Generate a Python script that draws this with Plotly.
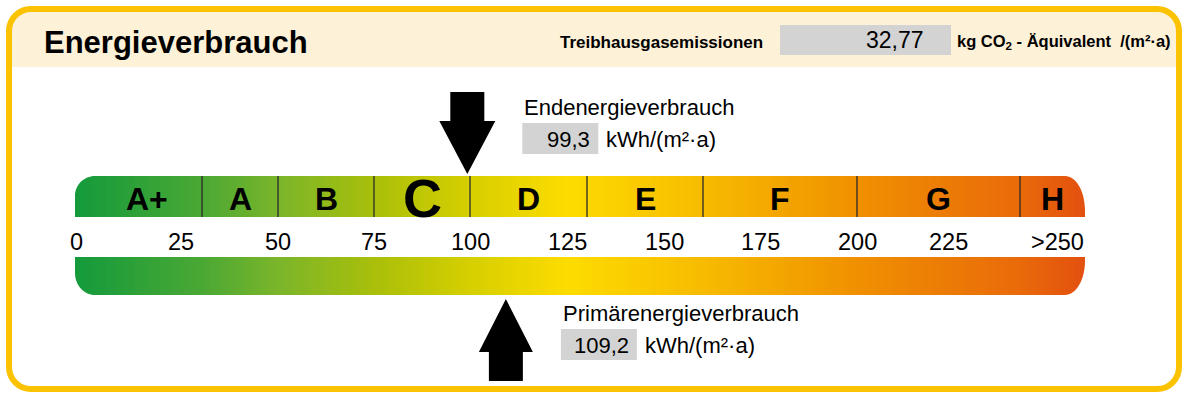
import numpy as np
import plotly.graph_objects as go

# ---------------- data ----------------
classes = ["A+", "A", "B", "C", "D", "E", "F", "G", "H"]
class_upper = [30, 50, 75, 100, 130, 160, 200, 250, 300]   # upper bound of each class (kWh/(m²·a)); 300 = end of scale
tick_values = [0, 25, 50, 75, 100, 125, 150, 175, 200, 225, 250]
tick_labels = ["0", "25", "50", "75", "100", "125", "150", "175", "200", "225", ">250"]
end_energy = 99.3          # Endenergieverbrauch
primary_energy = 109.2     # Primärenergieverbrauch
ghg_emissions = 32.77      # Treibhausgasemissionen kg CO2-Äquivalent/(m²·a)

# gradient stops along the scale (value, colour)
grad_values = [0, 30, 50, 75, 100, 125, 160, 200, 250, 300]
grad_colors = ["#149a3c", "#4aa834", "#7ab52a", "#a9bf0a", "#d6cf00",
               "#fddc00", "#f7bb00", "#f09000", "#e96a0a", "#e3500f"]

# ---------------- layout helpers ----------------
W, H = 1189, 400
# piecewise display scale: class boundaries -> horizontal position
scale_vals = [0] + class_upper
scale_pos = [76, 202, 278, 374, 470, 587, 703, 857, 1020, 1085]


def sx(v):
    return float(np.interp(v, scale_vals, scale_pos))


def de(v, d=1):
    return f"{v:.{d}f}".replace(".", ",")


FONT = "Liberation Sans, Arial, Helvetica, sans-serif"
BAR_L, BAR_R = 75, sx(class_upper[-1])
TOP_Y0, TOP_Y1 = 176, 217
BOT_Y0, BOT_Y1 = 257, 295

fig = go.Figure()

# gradient bars via heatmap
edges = np.arange(BAR_L, BAR_R + 1, 1.0)
centers = (edges[:-1] + edges[1:]) / 2
vals = np.interp(centers, scale_pos, scale_vals)
zmax = class_upper[-1]
colorscale = [[v / zmax, c] for v, c in zip(grad_values, grad_colors)]
z = np.vstack([vals, np.full_like(vals, np.nan), vals])
fig.add_trace(go.Heatmap(
    x=edges, y=[TOP_Y0, TOP_Y1, BOT_Y0, BOT_Y1], z=z,
    colorscale=colorscale, zmin=0, zmax=zmax, showscale=False,
    hoverinfo="skip", zsmooth=False))

shapes = []


def rrect(x0, y0, x1, y1, r):
    k = 0.5523 * r
    return (f"M {x0+r},{y0} L {x1-r},{y0} C {x1-r+k},{y0} {x1},{y0+r-k} {x1},{y0+r} "
            f"L {x1},{y1-r} C {x1},{y1-r+k} {x1-r+k},{y1} {x1-r},{y1} "
            f"L {x0+r},{y1} C {x0+r-k},{y1} {x0},{y1-r+k} {x0},{y1-r} "
            f"L {x0},{y0+r} C {x0},{y0+r-k} {x0+r-k},{y0} {x0+r},{y0} Z")


def corner_mask(cx, cy, rx, ry, sxn, syn):
    # cx,cy: square corner; sxn/syn: direction towards inside (+1/-1)
    kx, ky = 0.5523 * rx, 0.5523 * ry
    ox, oy = cx - sxn * 1.5, cy - syn * 1.5
    p1 = (cx + sxn * rx, cy)
    p2 = (cx, cy + syn * ry)
    c1 = (cx + sxn * (rx - kx), cy)
    c2 = (cx, cy + syn * (ry - ky))
    return (f"M {ox},{oy} L {p1[0]},{oy} L {p1[0]},{p1[1]} "
            f"C {c1[0]},{c1[1]} {c2[0]},{c2[1]} {p2[0]},{p2[1]} L {ox},{p2[1]} Z")


# header band (cream) with rounded top corners
FX0, FY0, FX1, FY1, FR = 9, 9, 1179, 389, 22
k = 0.5523 * FR
hdr = (f"M {FX0},67 L {FX0},{FY0+FR} C {FX0},{FY0+FR-k} {FX0+FR-k},{FY0} {FX0+FR},{FY0} "
       f"L {FX1-FR},{FY0} C {FX1-FR+k},{FY0} {FX1},{FY0+FR-k} {FX1},{FY0+FR} L {FX1},67 Z")
shapes.append(dict(type="path", path=hdr, fillcolor="#fdf1d7", line=dict(width=0), layer="below"))

# rounded ends of bars (white masks)
for (cx, cy, rx, ry, a, b) in [(BAR_L, TOP_Y0, 20, 20, 1, 1), (BAR_R, TOP_Y0, 20, 34, -1, 1),
                               (BAR_L, BOT_Y1, 20, 22, 1, -1), (BAR_R, BOT_Y1, 20, 34, -1, -1)]:
    shapes.append(dict(type="path", path=corner_mask(cx, cy, rx, ry, a, b),
                       fillcolor="white", line=dict(width=0)))

# class dividers
for v in class_upper[:-1]:
    shapes.append(dict(type="line", x0=sx(v), x1=sx(v), y0=TOP_Y0, y1=TOP_Y1,
                       line=dict(color="#2a2a2a", width=1.3)))

# arrows
ax_end = sx(end_energy)
ax_pri = sx(primary_energy)
SH, HH = 17, 27
down = (f"M {ax_end-SH},92 L {ax_end+SH},92 L {ax_end+SH},121 L {ax_end+HH+1},121 "
        f"L {ax_end},174 L {ax_end-HH-1},121 L {ax_end-SH},121 Z")
up = (f"M {ax_pri-SH},381 L {ax_pri+SH},381 L {ax_pri+SH},352 L {ax_pri+HH},352 "
      f"L {ax_pri},299 L {ax_pri-HH},352 L {ax_pri-SH},352 Z")
for p in (down, up):
    shapes.append(dict(type="path", path=p, fillcolor="black", line=dict(width=0)))

# gray value boxes
GRAY = "#d3d3d3"
e_lx = ax_end + 55
p_lx = ax_pri + 55
shapes.append(dict(type="rect", x0=e_lx, x1=e_lx + 76, y0=123, y1=154, fillcolor=GRAY, line=dict(width=0)))
shapes.append(dict(type="rect", x0=p_lx, x1=p_lx + 76, y0=329, y1=360, fillcolor=GRAY, line=dict(width=0)))
shapes.append(dict(type="rect", x0=780, x1=951, y0=25, y1=55, fillcolor=GRAY, line=dict(width=0)))

# outer frame
shapes.append(dict(type="path", path=rrect(FX0, FY0, FX1, FY1, FR), fillcolor="rgba(0,0,0,0)",
                   line=dict(color="#fbc200", width=6)))

ann = []


def txt(x, y, t, size, bold=False, xa="center", color="black", xshift=0):
    ann.append(dict(x=x, y=y, text=f"<b>{t}</b>" if bold else t, showarrow=False, xshift=xshift,
                    xanchor=xa, yanchor="middle", font=dict(family=FONT, size=size, color=color)))


# header
txt(42, 42, "Energieverbrauch", 31, bold=True, xa="left")
txt(558, 42, "Treibhausgasemissionen", 17, bold=True, xa="left")
txt(926, 40, de(ghg_emissions, 2), 23, xa="right")
txt(955, 42, "kg CO<sub>2</sub> - Äquivalent\u00a0 /(m²·a)", 16.5, bold=True, xa="left")

# class letters
current = None
lo = 0
for c, hi in zip(classes, class_upper):
    if lo <= end_energy < hi:
        current = c
    lo = hi
lo = 0
for c, hi in zip(classes, class_upper):
    mid = (sx(lo) + sx(hi)) / 2
    if c == classes[0]:
        mid += 8
    if c == current:
        txt(mid, 198, c, 54, bold=True)
    else:
        txt(mid, 199, c, 32, bold=True)
    lo = hi

# scale ticks
for v, t in zip(tick_values, tick_labels):
    x = sx(v)
    if t.startswith(">"):
        x = (sx(class_upper[-2]) + sx(class_upper[-1])) / 2 + 5
    txt(x, 242, t, 23.5, xshift=(10 if v == 225 else 0))

# energy labels
txt(e_lx, 107, "Endenergieverbrauch", 22, xa="left")
txt(e_lx + 70, 139, de(end_energy), 22, xa="right")
txt(e_lx + 82, 139, "kWh/(m²·a)", 22, xa="left")
txt(p_lx, 313, "Primärenergieverbrauch", 22, xa="left")
txt(p_lx + 70, 345, de(primary_energy), 22, xa="right")
txt(p_lx + 82, 345, "kWh/(m²·a)", 22, xa="left")

fig.update_layout(
    width=W, height=H, margin=dict(l=0, r=0, t=0, b=0),
    paper_bgcolor="white", plot_bgcolor="white",
    xaxis=dict(range=[0, W], visible=False, fixedrange=True),
    yaxis=dict(range=[H, 0], visible=False, fixedrange=True),
    shapes=shapes, annotations=ann, showlegend=False,
)
fig.write_html("out.html", config={"displayModeBar": False},
               post_script="document.body.style.margin='0px';document.body.style.overflow='hidden';")
